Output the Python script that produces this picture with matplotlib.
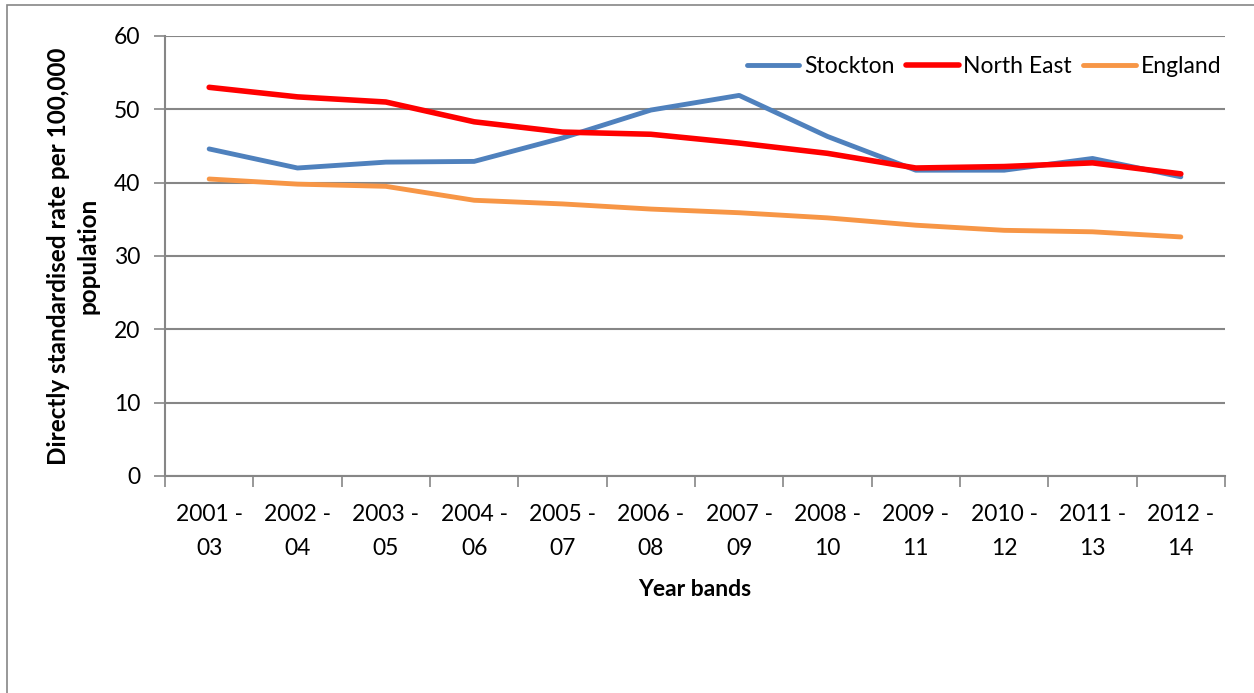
import matplotlib.pyplot as plt
import numpy as np
from matplotlib.patches import Rectangle

bands = ['2001 -\n03', '2002 -\n04', '2003 -\n05', '2004 -\n06', '2005 -\n07', '2006 -\n08',
         '2007 -\n09', '2008 -\n10', '2009 -\n11', '2010 -\n12', '2011 -\n13', '2012 -\n14']
stockton = [44.6, 42.0, 42.8, 42.9, 46.1, 49.9, 51.9, 46.3, 41.7, 41.7, 43.3, 40.8]
north_east = [53.0, 51.7, 51.0, 48.3, 46.9, 46.6, 45.4, 44.0, 42.0, 42.2, 42.7, 41.2]
england = [40.5, 39.8, 39.5, 37.6, 37.1, 36.4, 35.9, 35.2, 34.2, 33.5, 33.3, 32.6]

plt.rcParams['font.family'] = ['Lato', 'DejaVu Sans']
grey = '#868686'
fs = 16.5

fig = plt.figure(figsize=(12.54, 6.93), dpi=100)
# outer chart border
fig.patches.append(Rectangle((7 / 1254, -0.01), 1.1, 1 - 5 / 693 + 0.01, transform=fig.transFigure,
                             fill=False, edgecolor=grey, linewidth=1.2))

ax = fig.add_axes([165 / 1254, 1 - 476 / 693, 1060 / 1254, 440 / 693])
x = np.arange(len(bands))

ax.plot(x, stockton, color='#4F81BD', linewidth=3.5, label='Stockton', solid_capstyle='round')
ax.plot(x, north_east, color='#FF0000', linewidth=4.0, label='North East', solid_capstyle='round')
ax.plot(x, england, color='#F79646', linewidth=3.5, label='England', solid_capstyle='round')

ax.set_xlim(-0.5, len(bands) - 0.5)
ax.set_ylim(0, 60)
ax.set_yticks(np.arange(0, 61, 10))
ax.yaxis.grid(True, color=grey, linewidth=1.5)
ax.set_axisbelow(True)

ax.set_xticks(x)
ax.set_xticklabels(bands, fontsize=fs, linespacing=1.75)
ax.set_xticks(np.arange(-0.5, len(bands), 1), minor=True)
ax.tick_params(axis='x', which='major', length=0, pad=20)
ax.tick_params(axis='x', which='minor', length=8, color=grey, width=1.2)
ax.tick_params(axis='y', length=8, color=grey, width=1.2, labelsize=fs, pad=10)

for side in ['top', 'right']:
    ax.spines[side].set_visible(False)
for side in ['left', 'bottom']:
    ax.spines[side].set_color(grey)
    ax.spines[side].set_linewidth(1.5)

ax.set_xlabel('Year bands', fontsize=fs, fontweight='bold', labelpad=15)
ax.set_ylabel('Directly standardised rate per 100,000\npopulation', fontsize=17.5,
              fontweight='bold', labelpad=10, linespacing=1.35)

ax.legend(loc='upper right', bbox_to_anchor=(1.005, 0.975), ncol=3, frameon=False,
          fontsize=fs, handlelength=2.3, handletextpad=0.2, columnspacing=0.5,
          borderaxespad=0)

fig.savefig('out.png', dpi=100)
